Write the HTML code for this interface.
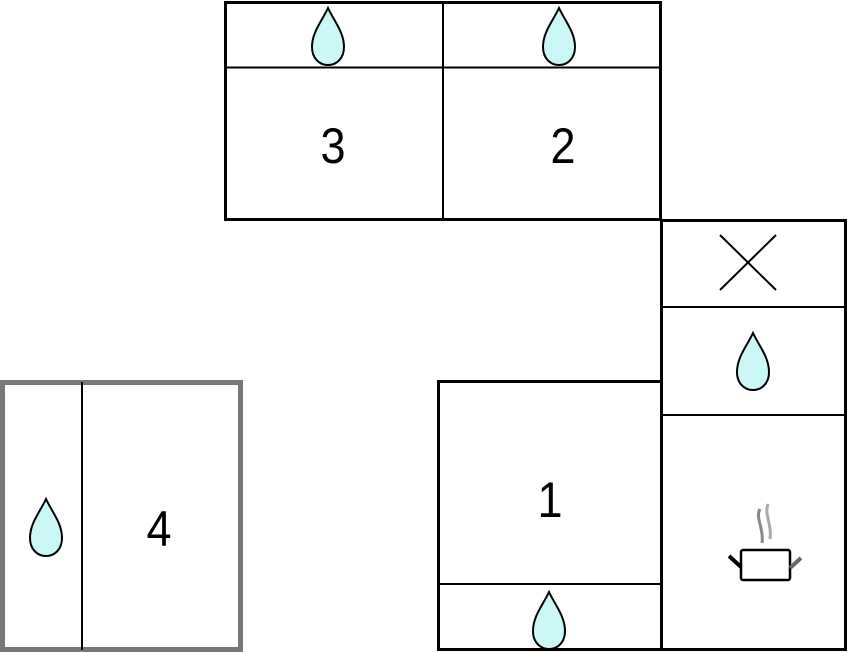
<!DOCTYPE html>
<html><head><style>body{margin:0;background:#fff}svg{display:block}</style></head><body>
<svg width="849" height="652" viewBox="0 0 849 652" xmlns="http://www.w3.org/2000/svg">
<defs>
<path id="d" d="M0,-29 C6,-16 16,-5 16,10 C16,22 8,28 0,28 C-8,28 -16,22 -16,10 C-16,-5 -6,-16 0,-29 Z" fill="#ccf7f7" stroke="#000" stroke-width="2"/>
</defs>
<g fill="none" stroke="#000" stroke-width="3">
<rect x="225.5" y="2.5" width="435" height="217"/>
<line x1="225" y1="67.5" x2="660" y2="67.5" stroke-width="2"/>
<line x1="443" y1="3" x2="443" y2="219" stroke-width="2"/>
<rect x="661.5" y="220.5" width="184" height="429"/>
<line x1="661" y1="307" x2="846" y2="307" stroke-width="2"/>
<line x1="661" y1="415" x2="846" y2="415" stroke-width="2"/>
<rect x="438.5" y="381.5" width="223" height="268"/>
<line x1="438" y1="584" x2="661" y2="584" stroke-width="2"/>
<line x1="720" y1="235" x2="776" y2="290" stroke-width="2"/>
<line x1="776" y1="235" x2="720" y2="290" stroke-width="2"/>
</g>
<rect x="2.5" y="382.5" width="238" height="267" fill="none" stroke="#777" stroke-width="5"/>
<line x1="82" y1="382" x2="82" y2="650" stroke="#000" stroke-width="2"/>
<use href="#d" x="328" y="37"/>
<use href="#d" x="559" y="37"/>
<use href="#d" x="753" y="362"/>
<use href="#d" x="549" y="621"/>
<use href="#d" x="46" y="528"/>
<g font-family="Liberation Sans, sans-serif" font-size="50" text-anchor="middle" fill="#000">
<text x="333" y="163" transform="translate(333 0) scale(0.9 1) translate(-333 0)">3</text>
<text x="563" y="163" transform="translate(563 0) scale(0.9 1) translate(-563 0)">2</text>
<text x="550" y="517" transform="translate(550 0) scale(0.9 1) translate(-550 0)">1</text>
<text x="159" y="546" transform="translate(159 0) scale(0.9 1) translate(-159 0)">4</text>
</g>
<g>
<path d="M760,509 C755,518 764,528 762,543" stroke="#888" stroke-width="3" fill="none"/>
<path d="M768,504 C764,514 772,524 770,539" stroke="#aaa" stroke-width="3" fill="none"/>
<rect x="741" y="550" width="49" height="30" rx="2" fill="#fff" stroke="#000" stroke-width="2.5"/>
<line x1="729" y1="556" x2="741" y2="567" stroke="#000" stroke-width="4"/>
<line x1="790" y1="568" x2="801" y2="558" stroke="#666" stroke-width="4"/>
</g>
</svg>
</body></html>
